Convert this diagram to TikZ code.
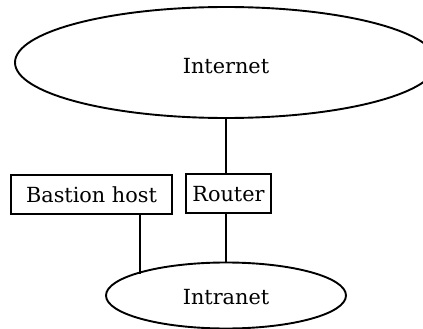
\documentclass[tikz,border=0pt]{standalone}
\usepackage{fontspec}
\setmainfont{DejaVu Serif}
\usetikzlibrary{shapes.geometric}
\begin{document}
\begin{tikzpicture}[x=1pt,y=-1pt,
  cloud/.style={draw, line width=1.9pt, ellipse, inner sep=0pt},
  boxn/.style={draw, line width=1.9pt, rectangle, inner sep=0pt},
  link/.style={line width=1.9pt},
  lbl/.style={font=\fontsize{20.8}{24}\selectfont}]
\useasboundingbox (0,0) rectangle (423,329);
\clip (0,0) rectangle (423,329);
\node[cloud, minimum width=422pt, minimum height=111pt] (inet) at (226,62.5) {};
\node[lbl] at (226,66) {Internet};
\node[cloud, minimum width=240pt, minimum height=66pt] (intra) at (226,295.5) {};
\node[lbl] at (226,297) {Intranet};
\node[boxn, minimum width=85pt, minimum height=39pt] (router) at (228.5,193.5) {};
\node[lbl] at (228.5,194) {Router};
\node[boxn, minimum width=161pt, minimum height=39pt] (bastion) at (91.5,194.5) {};
\node[lbl] at (91.5,195) {Bastion host};
\coordinate (r1) at (226,118);
\coordinate (bb) at (140,274);
\draw[link] (r1) -- (226,174);
\draw[link] (226,213) -- (intra.north);
\draw[link] (140,214) -- (bb);
\end{tikzpicture}
\end{document}
